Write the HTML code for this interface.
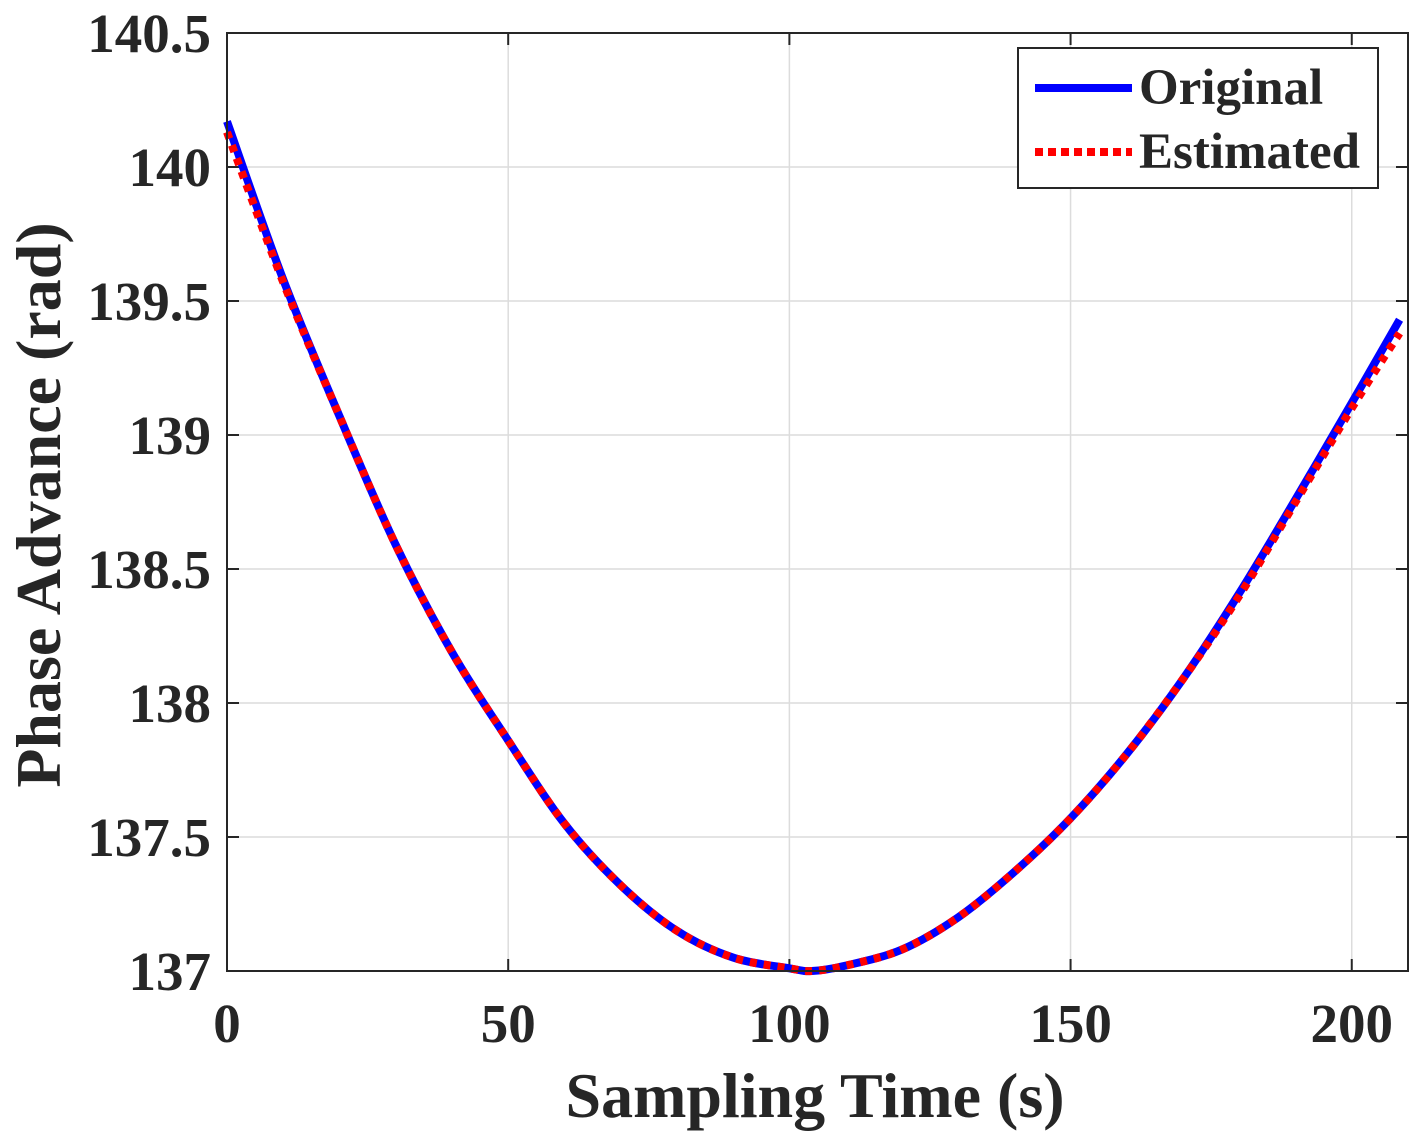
<!DOCTYPE html>
<html><head><meta charset="utf-8"><style>
body{margin:0;background:#fff;}
svg text{font-family:"Liberation Serif",serif;font-weight:bold;fill:#262626;}
</style></head><body>
<svg id="chart" width="1421" height="1141" viewBox="0 0 1421 1141" xmlns="http://www.w3.org/2000/svg">
<g id="grid"></g>
<g id="ticks"></g>
<g id="series"></g>
<rect x="227" y="33" width="1181" height="938" fill="none" stroke="#262626" stroke-width="2"/>
<text x="815" y="1117" font-size="64" text-anchor="middle">Sampling Time (s)</text>
<text transform="translate(60,505) rotate(-90)" font-size="64" text-anchor="middle">Phase Advance (rad)</text>
<g>
<rect x="1018" y="48" width="360" height="140" fill="#fff" stroke="#262626" stroke-width="2"/>
<line x1="1035" y1="88" x2="1132" y2="88" stroke="#0000ff" stroke-width="8"/>
<text x="1139" y="104" font-size="51">Original</text>
<line x1="1035" y1="152" x2="1132" y2="152" stroke="#ff0000" stroke-width="8" stroke-dasharray="8,5"/>
<text x="1139" y="168" font-size="51">Estimated</text>
</g>
</svg>
<script>
const timeValues=[0,10,20,30,40,50,60,70,80,90,100,104,110,120,130,140,150,160,170,180,190,200,208.5];
const originalValues=[140.17,139.58,139.07,138.59,138.19,137.86,137.55,137.32,137.15,137.05,137.01,137.0,137.02,137.08,137.20,137.37,137.57,137.81,138.09,138.41,138.76,139.12,139.43];
const estimatedValues=[140.13,139.57,139.07,138.59,138.19,137.86,137.55,137.32,137.15,137.05,137.01,137.0,137.02,137.08,137.20,137.37,137.57,137.81,138.09,138.40,138.75,139.10,139.38];
const xTicks=[0,50,100,150,200];
const yTicks=[137,137.5,138,138.5,139,139.5,140,140.5];
const yTickLabels=["137","137.5","138","138.5","139","139.5","140","140.5"];
const X0=227,X1=1408,Y0=971,Y1=33,xMin=0,xMax=210,yMin=137,yMax=140.5;
const sx=v=>X0+(v-xMin)/(xMax-xMin)*(X1-X0);
const sy=v=>Y0-(v-yMin)/(yMax-yMin)*(Y0-Y1);
const NS="http://www.w3.org/2000/svg";
function mk(tag,attrs,parent){const e=document.createElementNS(NS,tag);for(const k in attrs)e.setAttribute(k,attrs[k]);parent.appendChild(e);return e;}
const grid=document.getElementById('grid'),ticks=document.getElementById('ticks'),series=document.getElementById('series');
xTicks.forEach(t=>{
 const x=sx(t);
 const g=mk('line',{x1:x,y1:Y1,x2:x,y2:Y0,stroke:'#dcdcdc','stroke-width':1.5},grid);
 
 
 mk('line',{x1:x,y1:Y0,x2:x,y2:Y0-12,stroke:'#262626','stroke-width':2},ticks);
 mk('line',{x1:x,y1:Y1,x2:x,y2:Y1+12,stroke:'#262626','stroke-width':2},ticks);
 const l=mk('text',{x:x,y:1042,'font-size':55,'text-anchor':'middle'},ticks);
 l.textContent=String(t);
 
 
});
yTicks.forEach((t,i)=>{
 const y=sy(t);
 const g=mk('line',{x1:X0,y1:y,x2:X1,y2:y,stroke:'#dcdcdc','stroke-width':1.5},grid);
 
 
 mk('line',{x1:X0,y1:y,x2:X0+12,y2:y,stroke:'#262626','stroke-width':2},ticks);
 mk('line',{x1:X1,y1:y,x2:X1-12,y2:y,stroke:'#262626','stroke-width':2},ticks);
 const l=mk('text',{x:211,y:y+19,'font-size':55,'text-anchor':'end'},ticks);
 l.textContent=yTickLabels[i];
 
 
});
function pathFor(vals){
 const pts=timeValues.map((t,i)=>[sx(t),sy(vals[i])]);
 let d='M'+pts[0][0]+','+pts[0][1];
 for(let i=0;i<pts.length-1;i++){
  const p0=pts[Math.max(0,i-1)],p1=pts[i],p2=pts[i+1],p3=pts[Math.min(pts.length-1,i+2)];
  const c1=[p1[0]+(p2[0]-p0[0])/6,p1[1]+(p2[1]-p0[1])/6],c2=[p2[0]-(p3[0]-p1[0])/6,p2[1]-(p3[1]-p1[1])/6];
  d+=' C'+c1+' '+c2+' '+p2;
 }
 return d;
}
const o=mk('path',{d:pathFor(originalValues),fill:'none',stroke:'#0000ff','stroke-width':8},series);


const e=mk('path',{d:pathFor(estimatedValues),fill:'none',stroke:'#ff0000','stroke-width':8,'stroke-dasharray':'7,7'},series);


</script>
</body></html>
